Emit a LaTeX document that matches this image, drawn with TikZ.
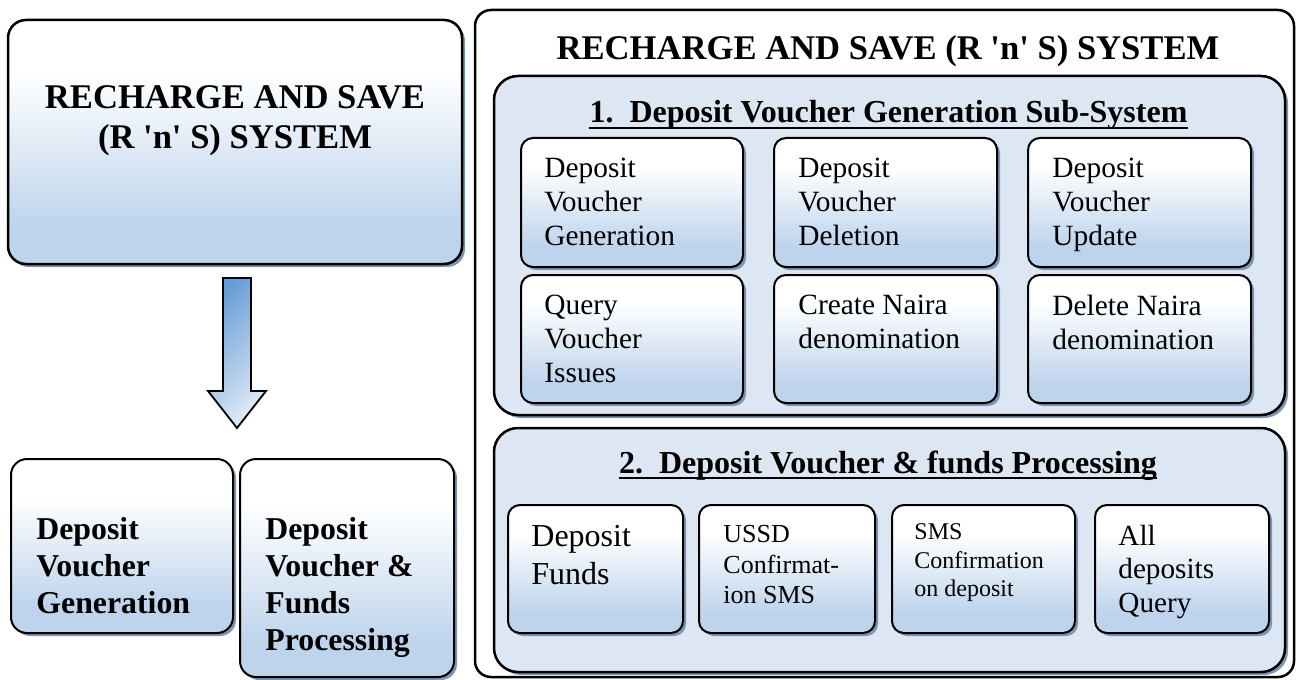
\documentclass[tikz,border=0pt]{standalone}
\usepackage{fontspec}
\setmainfont{Liberation Serif}
\usetikzlibrary{fit,shadows,calc}

\definecolor{boxblue}{RGB}{190,212,236}
\definecolor{panelblue}{RGB}{220,231,243}
\definecolor{shadowblue}{RGB}{125,148,178}
\definecolor{arrowdark}{RGB}{105,157,214}
\definecolor{arrowlight}{RGB}{224,234,246}

% white at the top, light blue towards the bottom
\pgfdeclareverticalshading{boxgrad}{100bp}{color(0bp)=(boxblue); color(33bp)=(boxblue); color(64bp)=(white); color(100bp)=(white)}

\tikzset{
  x=0.5pt, y=-0.5pt,
  softshadow/.style={drop shadow={shadow xshift=1.5pt, shadow yshift=-1.5pt, fill=shadowblue, opacity=1}},
  blk/.style={draw, line width=1pt, rounded corners=6pt, shade, shading=boxgrad, inner sep=0pt, softshadow},
  bigblk/.style={blk, line width=1.25pt, rounded corners=9pt},
  panel/.style={draw, line width=1.25pt, rounded corners=12pt, fill=panelblue, inner sep=0pt, softshadow},
  frame/.style={draw, line width=1.25pt, rounded corners=8pt, fill=white, inner sep=0pt},
  ttl/.style={font=\bfseries\fontsize{17.3}{20}\selectfont, inner sep=0pt},
  subttl/.style={font=\bfseries\fontsize{16}{19}\selectfont, inner sep=0pt, anchor=base},
  itm/.style={font=\fontsize{14.7}{17}\selectfont, align=left, anchor=north west, inner sep=0pt},
  bitm/.style={font=\bfseries\fontsize{15.9}{18.5}\selectfont, align=left, anchor=north west, inner sep=0pt},
  uline/.style={line width=1pt},
}

\newcommand{\qs}{\textquotesingle}

\begin{document}
\begin{tikzpicture}
\useasboundingbox (0,0) rectangle (1299,679);

% ---------- left column ----------
\node[bigblk, fit={(8,20) (462,264)}] (top) {};
\node[ttl, align=center, anchor=north] (toptxt) at (235,85.5) {RECHARGE AND SAVE\\(R \qs n\qs{} S) SYSTEM};

\path[draw, line width=0.9pt, top color=arrowdark, bottom color=arrowlight, shading angle=45]
  (223,278) -- (251,278) -- (251,391) -- (266,391) -- (237,428) -- (208,391) -- (223,391) -- cycle;

\node[blk, rounded corners=8pt, fit={(11,459) (233,633)}] (lgen) {};
\node[bitm] (lgentxt) at (36,517) {Deposit\\Voucher\\Generation};
\node[blk, rounded corners=8pt, fit={(240,459) (454,677)}] (lproc) {};
\node[bitm] (lproctxt) at (265,517) {Deposit\\Voucher \&\\Funds\\Processing};

% ---------- right column ----------
\node[frame, fit={(475,10) (1294,677)}] (sys) {};
\node[ttl, anchor=base] (systxt) at (888,60) {RECHARGE AND SAVE (R \qs n\qs{} S) SYSTEM};

% sub-system 1
\node[panel, fit={(494,76) (1285,415)}] (sub1) {};
\node[subttl] (sub1txt) at (888.5,123) {1.\ \ Deposit Voucher Generation Sub-System};
\draw[uline] ($(sub1txt.base west)+(0,5)$) -- ($(sub1txt.base east)+(0,5)$);

\node[blk, fit={(521,138) (743,267)}] (gen) {};
\node[itm] (gentxt) at (544,157.7) {Deposit\\Voucher\\Generation};
\node[blk, fit={(774,138) (997,267)}] (del) {};
\node[itm] (deltxt) at (798,157.7) {Deposit\\Voucher\\Deletion};
\node[blk, fit={(1028,138) (1251,267)}] (upd) {};
\node[itm] (updtxt) at (1052,157.7) {Deposit\\Voucher\\Update};

\node[blk, fit={(521,275) (743,403)}] (qry) {};
\node[itm] (qrytxt) at (544,294.7) {Query\\Voucher\\Issues};
\node[blk, fit={(774,275) (997,403)}] (crt) {};
\node[itm] (crttxt) at (798,294.7) {Create Naira\\denomination};
\node[blk, fit={(1028,275) (1251,403)}] (dln) {};
\node[itm] (dlntxt) at (1052,294.7) {Delete Naira\\denomination};

% sub-system 2
\node[panel, fit={(494,428) (1285,672)}] (sub2) {};
\node[subttl] (sub2txt) at (888,473) {2.\ \ Deposit Voucher \& funds Processing};
\draw[uline] ($(sub2txt.base west)+(0,5)$) -- ($(sub2txt.base east)+(0,5)$);

\node[blk, fit={(508,505) (683,633)}] (fund) {};
\node[itm, font=\fontsize{16}{19}\selectfont] (fundtxt) at (531,525) {Deposit\\Funds};
\node[blk, fit={(699,505) (875,633)}] (ussd) {};
\node[itm, font=\fontsize{13}{15.25}\selectfont] (ussdtxt) at (723,525) {USSD\\Confirmat-\\ion SMS};
\node[blk, fit={(892,505) (1075,633)}] (sms) {};
\node[itm, font=\fontsize{12}{14.25}\selectfont] (smstxt) at (914,523.5) {SMS\\Confirmation\\on deposit};
\node[blk, fit={(1095,505) (1269,633)}] (all) {};
\node[itm, font=\fontsize{14.6}{16.75}\selectfont] (alltxt) at (1118,524.8) {All\\deposits\\Query};
\end{tikzpicture}
\end{document}
